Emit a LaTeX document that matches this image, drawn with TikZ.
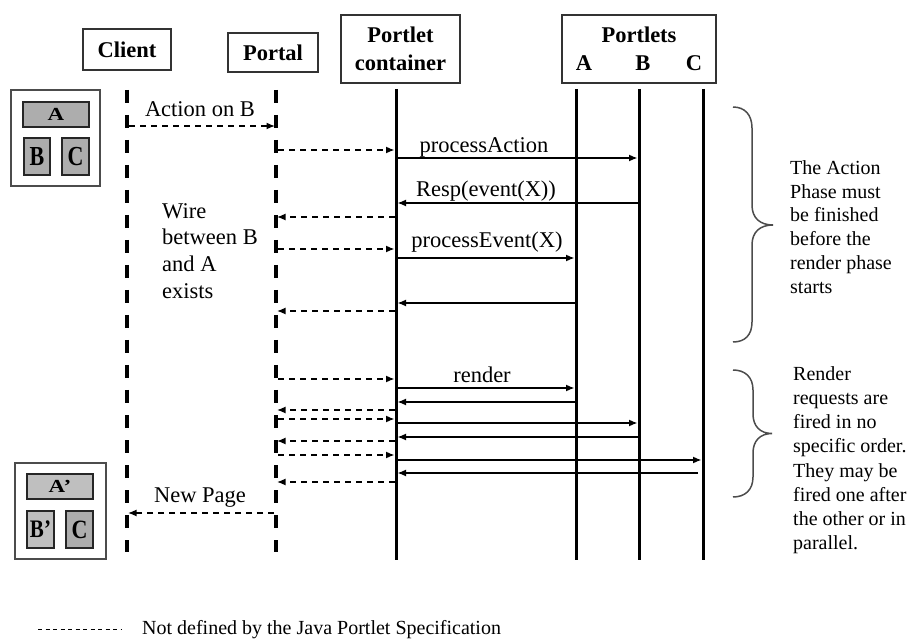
\documentclass[tikz,border=0pt]{standalone}
\usepackage{graphicx}
\usepackage{fontspec}
\setmainfont{Liberation Serif}
\usetikzlibrary{arrows.meta}

\begin{document}
\begin{tikzpicture}[x=1pt,y=-1pt,
  hdr/.style={draw=black!80,line width=1.2pt,inner sep=0pt,align=center,
    font=\bfseries\fontsize{22.5}{28}\selectfont},
  lbl/.style={font=\fontsize{22.5}{26}\selectfont,inner sep=0pt,anchor=base},
  note/.style={font=\fontsize{20}{23.8}\selectfont,inner sep=0pt,align=left,anchor=north west},
  dashlife/.style={line width=3.5pt,dash pattern=on 13pt off 12pt},
  solidlife/.style={line width=3pt},
  call/.style={line width=1.4pt,-{Latex[length=8.5pt,width=7pt]}},
  ext/.style={line width=1.4pt,dash pattern=on 6pt off 5pt,-{Latex[length=8.5pt,width=7pt]}},
  bracket/.style={line width=1.5pt,draw=black!70},
  pane/.style={draw=black!70,line width=1.2pt,inner sep=0pt},
  tile/.style={draw=black!85,fill=black!32,line width=1.4pt,inner sep=0pt,
    font=\bfseries\fontsize{23}{25}\selectfont}
]
\useasboundingbox (0,0) rectangle (914,639);

% ---------- header boxes ----------
\node[hdr,minimum width=88pt,minimum height=41pt] (client) at (127,49.5) {Client};
\node[hdr,minimum width=90pt,minimum height=39pt] (portal) at (273,52.5) {Portal};
\node[hdr,minimum width=119pt,minimum height=68pt] (cont) at (400.5,49) {Portlet\\container};
\node[hdr,minimum width=154pt,minimum height=68pt] (portlets) at (639,49)
  {Portlets\\A\hspace{43.4pt}B\hspace{35.4pt}C};

% ---------- lifelines ----------
\coordinate (lc) at (127,90);  \coordinate (lcE) at (127,552);
\coordinate (lp) at (276,90);  \coordinate (lpE) at (276,552);
\coordinate (lk) at (396,89);  \coordinate (lkE) at (396,560);
\coordinate (la) at (576,89);  \coordinate (laE) at (576,560);
\coordinate (lb) at (639,89);  \coordinate (lbE) at (639,560);
\coordinate (lx) at (703,89);  \coordinate (lxE) at (703,560);

\draw[dashlife] (lc) -- (lcE);
\draw[dashlife] (lp) -- (lpE);
\draw[solidlife] (lk) -- (lkE);
\draw[solidlife] (la) -- (laE);
\draw[solidlife] (lb) -- (lbE);
\draw[solidlife] (lx) -- (lxE);

% ---------- screen before the action ----------
\node[pane,minimum width=89pt,minimum height=96pt] (scr1) at (55.5,138) {};
\node[tile,minimum width=66pt,minimum height=25pt] (scr1a) at (56,114.5) {\scalebox{1}[0.8]{A}};
\node[tile,minimum width=26pt,minimum height=37pt] (scr1b) at (37,156.5) {\fontsize{22}{24}\selectfont\scalebox{1}[1.25]{B}};
\node[tile,minimum width=27pt,minimum height=37pt] (scr1c) at (75.5,156.5) {\fontsize{22}{24}\selectfont\scalebox{1}[1.25]{C}};

% ---------- screen after rendering ----------
\node[pane,minimum width=91pt,minimum height=96pt] (scr2) at (60.5,511) {};
\node[tile,fill=black!25,minimum width=66pt,minimum height=25pt] (scr2a) at (60,486.5) {\scalebox{1}[0.8]{A’}};
\node[tile,fill=black!25,minimum width=27pt,minimum height=37pt] (scr2b) at (40.5,529.5) {\fontsize{21}{23}\selectfont\scalebox{1}[1.2]{B’}};
\node[tile,minimum width=27pt,minimum height=37pt] (scr2c) at (79.5,529.5) {\fontsize{22}{24}\selectfont\scalebox{1}[1.2]{C}};

% ---------- action phase ----------
\node[lbl] (tAct) at (200,117) {Action on B};
\draw[ext] ([xshift=2pt]lc |- 0,126) -- ([xshift=-1pt]lp |- 0,126);
\draw[ext] ([xshift=2pt]lp |- 0,150) -- ([xshift=-1.5pt]lk |- 0,150);
\node[lbl] (tPA) at (484,153) {processAction};
\draw[call] ([xshift=1.5pt]lk |- 0,158) -- ([xshift=-1.5pt]lb |- 0,158);
\node[lbl] (tResp) at (486,197) {Resp(event(X))};
\draw[call] ([xshift=-1.5pt]lb |- 0,203) -- ([xshift=1.5pt]lk |- 0,203);
\draw[ext] ([xshift=-1.5pt]lk |- 0,217) -- ([xshift=1pt]lp |- 0,217);
\draw[ext] ([xshift=2pt]lp |- 0,249) -- ([xshift=-1.5pt]lk |- 0,249);
\node[lbl] (tPE) at (487,248) {processEvent(X)};
\draw[call] ([xshift=1.5pt]lk |- 0,258) -- ([xshift=-1.5pt]la |- 0,258);
\draw[call] ([xshift=-1.5pt]la |- 0,303) -- ([xshift=1.5pt]lk |- 0,303);
\draw[ext] ([xshift=-1.5pt]lk |- 0,311) -- ([xshift=1pt]lp |- 0,311);

\node[lbl,anchor=north west,align=left,font=\fontsize{22.5}{26.7}\selectfont] (tWire) at (162,203)
  {Wire\\between B\\and A\\exists};

% ---------- render phase ----------
\draw[ext] ([xshift=2pt]lp |- 0,379) -- ([xshift=-1.5pt]lk |- 0,379);
\node[lbl] (tRen) at (482,382) {render};
\draw[call] ([xshift=1.5pt]lk |- 0,388) -- ([xshift=-1.5pt]la |- 0,388);
\draw[call] ([xshift=-1.5pt]la |- 0,402) -- ([xshift=1.5pt]lk |- 0,402);
\draw[ext] ([xshift=-1.5pt]lk |- 0,410) -- ([xshift=1pt]lp |- 0,410);
\draw[ext] ([xshift=2pt]lp |- 0,419) -- ([xshift=-1.5pt]lk |- 0,419);
\draw[call] ([xshift=1.5pt]lk |- 0,423) -- ([xshift=-1.5pt]lb |- 0,423);
\draw[call] ([xshift=-1.5pt]lb |- 0,437) -- ([xshift=1.5pt]lk |- 0,437);
\draw[ext] ([xshift=-1.5pt]lk |- 0,441) -- ([xshift=1pt]lp |- 0,441);
\draw[ext] ([xshift=2pt]lp |- 0,455) -- ([xshift=-1.5pt]lk |- 0,455);
\draw[call] ([xshift=1.5pt]lk |- 0,460) -- ([xshift=-1.5pt]lx |- 0,460);
\draw[call] ([xshift=-5pt]lx |- 0,473) -- ([xshift=1.5pt]lk |- 0,473);
\draw[ext] ([xshift=-1.5pt]lk |- 0,482) -- ([xshift=1pt]lp |- 0,482);
\node[lbl] (tNew) at (200,502) {New Page};
\draw[ext] ([xshift=-2pt]lp |- 0,513) -- ([xshift=1pt]lc |- 0,513);

% ---------- braces and notes ----------
\draw[bracket] (733,107) .. controls (745,107) and (752,115) .. (752,128) -- (752,205)
  .. controls (752,218) and (760,225) .. (773,225)
  .. controls (760,225) and (752,232) .. (752,245) -- (752,322)
  .. controls (752,335) and (745,342) .. (733,342);
\node[note] (nAct) at (790,160.3)
  {The Action\\Phase must\\be finished\\before the\\render phase\\starts};

\draw[bracket] (733,370) .. controls (745,370) and (753,377) .. (753,390) -- (753,414)
  .. controls (753,426) and (760,433.5) .. (772,433.5)
  .. controls (760,433.5) and (753,441) .. (753,453) -- (753,477)
  .. controls (753,490) and (745,497) .. (733,497);
\node[note,font=\fontsize{20}{24.2}\selectfont] (nRen) at (793,366.3)
  {Render\\requests are\\fired in no\\specific order.\\They may be\\fired one after\\the other or in\\parallel.};

% ---------- legend ----------
\coordinate (lg1) at (38,629);
\coordinate (lg2) at (121,629);
\draw[line width=1pt,dash pattern=on 4pt off 3.5pt] (lg1) -- (lg2);
\node[inner sep=0pt,anchor=base west,font=\fontsize{20}{24}\selectfont] (legend) at (142,634)
  {Not defined by the Java Portlet Specification};
\end{tikzpicture}
\end{document}
